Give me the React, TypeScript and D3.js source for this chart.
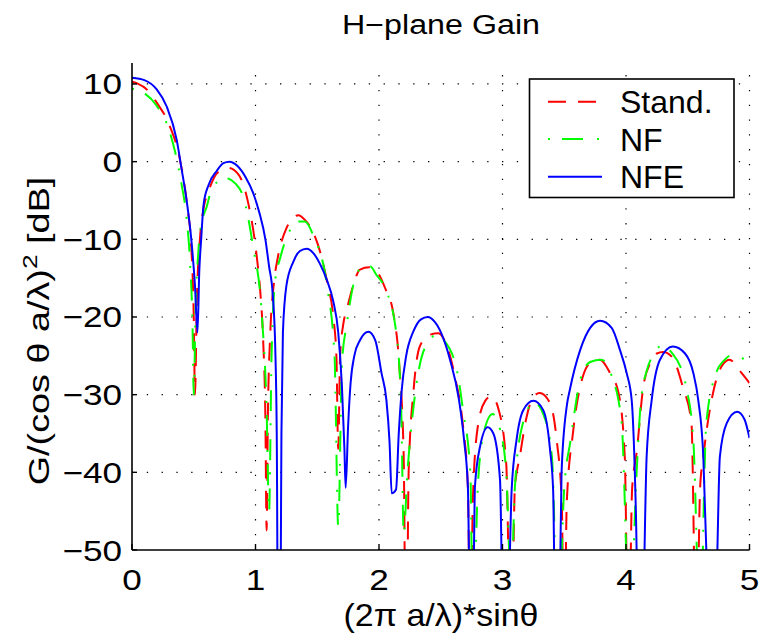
import React from 'react';
import * as d3 from 'd3';

const W = 761;
const H = 642;
const X_DOMAIN: [number, number] = [0, 5];
const Y_DOMAIN: [number, number] = [-50, 12.7];
const X_TICKS = [0, 1, 2, 3, 4, 5];
const Y_TICKS = [-50, -40, -30, -20, -10, 0, 10];
const TITLE = 'H\u2212plane Gain';
const SERIES_NAMES = ['Stand.', 'NF', 'NFE'];
const SERIES_COLORS = ['#ff0000', '#00ff00', '#0000ff'];

// Stand. (red dashed)
const standX = [0, 0.038, 0.132, 0.2, 0.3, 0.389, 0.448, 0.48, 0.5, 0.51, 0.525, 0.55, 0.58, 0.62, 0.7, 0.78, 0.86, 0.942, 1.01, 1.04, 1.063, 1.08, 1.09, 1.1, 1.12, 1.15, 1.18, 1.25, 1.3, 1.347, 1.4, 1.47, 1.53, 1.58, 1.63, 1.655, 1.67, 1.685, 1.71, 1.74, 1.79, 1.846, 1.92, 1.994, 2.05, 2.116, 2.165, 2.2, 2.22, 2.24, 2.28, 2.33, 2.41, 2.48, 2.52, 2.615, 2.68, 2.72, 2.74, 2.76, 2.8, 2.86, 2.91, 2.97, 3.03, 3.07, 3.1, 3.14, 3.196, 3.25, 3.3, 3.385, 3.44, 3.48, 3.5, 3.52, 3.57, 3.65, 3.72, 3.79, 3.87, 3.94, 3.99, 4.02, 4.05, 4.086, 4.14, 4.2, 4.25, 4.3, 4.37, 4.46, 4.53, 4.57, 4.6, 4.626, 4.71, 4.78, 4.84, 4.9, 4.95, 5.0];
const standY = [10.3, 10.1, 9.1, 7.6, 4.8, 0.2, -5.8, -11, -20, -30, -18, -10, -6, -3.8, -1.3, -0.8, -1.6, -5.4, -12.2, -17, -23.4, -33, -47.5, -33, -22, -15.5, -12.4, -8.6, -7.3, -6.9, -7.5, -9.2, -12, -15.5, -20, -25, -37, -25, -21, -19, -16, -13.9, -13.6, -14.4, -16.3, -19.5, -26.4, -38, -70, -40, -29.4, -23.8, -22.3, -22.1, -22.7, -27.7, -34, -42, -65, -43.5, -34.1, -30.8, -30.2, -32, -38.8, -65, -42, -38, -32.8, -30.3, -29.8, -31.1, -36, -44, -65, -44, -35, -27.7, -25.8, -25.5, -27.2, -29.8, -38, -65, -42, -37.5, -29, -25.8, -24.7, -24.5, -25.1, -29, -33.7, -65, -42, -38, -29.4, -26.2, -25.5, -26.5, -27.5, -28.5];

// NF (green dash-dot)
const nfX = [0, 0.1, 0.2, 0.308, 0.4, 0.44, 0.47, 0.49, 0.5, 0.515, 0.54, 0.57, 0.605, 0.63, 0.69, 0.753, 0.836, 0.9, 0.98, 1.05, 1.09, 1.11, 1.13, 1.16, 1.2, 1.28, 1.35, 1.4, 1.47, 1.58, 1.64, 1.67, 1.7, 1.74, 1.82, 1.87, 1.93, 1.98, 2.05, 2.14, 2.18, 2.2, 2.23, 2.265, 2.32, 2.39, 2.47, 2.52, 2.63, 2.68, 2.74, 2.76, 2.8, 2.84, 2.92, 2.98, 3.03, 3.07, 3.1, 3.16, 3.255, 3.33, 3.4, 3.45, 3.5, 3.55, 3.63, 3.71, 3.8, 3.88, 3.965, 4.03, 4.086, 4.12, 4.17, 4.22, 4.29, 4.37, 4.45, 4.49, 4.545, 4.6, 4.65, 4.73, 4.8, 4.87, 4.95, 5.0];
const nfY = [9.4, 8.8, 7.2, 3.7, -2.8, -7, -13, -21, -30, -19, -11, -7.5, -5.8, -4.3, -2.6, -2.1, -2.8, -4.5, -10.9, -19.5, -32, -45, -25, -15.2, -12.4, -8.8, -7.7, -7.7, -9.6, -16.1, -25, -47, -26, -20.8, -14.4, -13.6, -13.5, -14.6, -16.3, -22.1, -32, -48, -40, -33.7, -27, -23.4, -22.3, -22.9, -26.8, -32, -40.1, -60, -42, -35.5, -32.5, -34.5, -40, -55, -42, -34, -31, -32.5, -38, -60, -42, -36, -28.1, -25.8, -25.5, -27.4, -33.7, -60, -40, -31, -26.8, -24.9, -23.7, -24.6, -26.8, -29.2, -35.8, -60, -33.7, -27.2, -25.5, -24.8, -25.4, -26.3];

// NFE (blue solid)
const nfeX = [0, 0.1, 0.2, 0.281, 0.362, 0.4, 0.445, 0.48, 0.51, 0.53, 0.545, 0.56, 0.58, 0.62, 0.686, 0.74, 0.79, 0.85, 0.92, 0.98, 1.03, 1.08, 1.11, 1.139, 1.16, 1.172, 1.19, 1.21, 1.222, 1.25, 1.306, 1.36, 1.414, 1.47, 1.52, 1.577, 1.63, 1.67, 1.7, 1.72, 1.73, 1.75, 1.77, 1.8, 1.846, 1.914, 1.97, 2.02, 2.06, 2.085, 2.103, 2.138, 2.16, 2.184, 2.22, 2.28, 2.34, 2.394, 2.45, 2.51, 2.575, 2.648, 2.69, 2.72, 2.745, 2.765, 2.777, 2.818, 2.88, 2.926, 2.98, 3.005, 3.04, 3.074, 3.114, 3.168, 3.25, 3.33, 3.385, 3.41, 3.435, 3.465, 3.478, 3.52, 3.545, 3.63, 3.71, 3.79, 3.884, 3.95, 4.005, 4.046, 4.08, 4.12, 4.15, 4.167, 4.208, 4.275, 4.38, 4.478, 4.545, 4.585, 4.626, 4.66, 4.7, 4.74, 4.76, 4.815, 4.9, 4.96, 5.0];
const nfeY = [10.8, 10.5, 9.3, 7.1, 2.8, -0.8, -5.3, -10, -16, -22, -14, -10, -5.5, -3.0, -1.2, -0.2, 0, -0.5, -2, -4, -6.5, -10, -13.5, -17, -24, -35, -90, -35, -22, -16, -12.9, -11.5, -11.2, -11.8, -13.1, -15.2, -18, -22, -29, -37, -42, -34, -28.5, -25, -23, -21.9, -23, -27.2, -30.7, -36, -42.7, -42.2, -35, -29.4, -25, -21.8, -20.3, -20, -20.6, -22.3, -25.5, -30.7, -36, -42, -70, -55, -41.8, -36.7, -34.2, -35, -41, -60, -60, -42.3, -35.8, -32, -30.8, -32, -37.1, -42.3, -70, -55, -40.1, -31.5, -29.4, -24.2, -21.4, -20.5, -21.4, -24.2, -27.2, -30.7, -45, -80, -50, -38, -30.7, -25.5, -23.8, -24.7, -27.2, -30.7, -38, -55, -80, -50, -38, -33.7, -32.2, -33.2, -35.6];

const FONT = '"Liberation Sans", Arial, Helvetica, sans-serif';

export default function App() {
  const x = d3.scaleLinear().domain(X_DOMAIN).range([132, 749.5]);
  const y = d3.scaleLinear().domain(Y_DOMAIN).range([550, 63]);
  const [x0, x1] = x.range();
  const [yb, yt] = y.range();

  const line = d3
    .line<[number, number]>()
    .x((d) => x(d[0]))
    .y((d) => y(d[1]))
    .curve(d3.curveMonotoneX);

  const series = [
    { name: SERIES_NAMES[0], color: SERIES_COLORS[0], dash: '18,12', pts: standX.map((v, i) => [v, standY[i]] as [number, number]) },
    { name: SERIES_NAMES[1], color: SERIES_COLORS[1], dash: '2,12,21,14', pts: nfX.map((v, i) => [v, nfY[i]] as [number, number]) },
    { name: SERIES_NAMES[2], color: SERIES_COLORS[2], dash: undefined as string | undefined, pts: nfeX.map((v, i) => [v, nfeY[i]] as [number, number]) },
  ];

  const fmt = d3.format('d');

  const legend = { x: 529.5, y: 79, w: 204.5, h: 118.5 };
  const legendRows = [101.7, 139, 176.7];

  return (
    <svg width={W} height={H} style={{ position: 'absolute', left: 0, top: 0, background: '#fff' }} fontFamily={FONT}>
      <defs>
        <clipPath id="plotclip">
          <rect x={x0} y={yt} width={x1 - x0} height={yb - yt} />
        </clipPath>
      </defs>
      <rect x={0} y={0} width={W} height={H} fill="#fff" />

      {/* grid */}
      {X_TICKS.filter((t) => t !== 0).map((t) => (
        <line key={'gx' + t} x1={x(t)} x2={x(t)} y1={yb} y2={yt} stroke="#000" strokeWidth={1.2} strokeDasharray="1.3,13.5" />
      ))}
      {Y_TICKS.filter((t) => t !== -50).map((t) => (
        <line key={'gy' + t} x1={x0} x2={x1} y1={y(t)} y2={y(t)} stroke="#000" strokeWidth={1.2} strokeDasharray="1.3,13.5" />
      ))}

      {/* series */}
      <g clipPath="url(#plotclip)">
        {series.map((s) => (
          <path key={s.name} d={line(s.pts) || ''} fill="none" stroke={s.color} strokeWidth={2} strokeDasharray={s.dash} strokeLinejoin="round" />
        ))}
      </g>

      {/* axes */}
      <line x1={x0} x2={x0} y1={yb} y2={yt} stroke="#000" strokeWidth={1.6} />
      <line x1={x0} x2={x1} y1={yb} y2={yb} stroke="#000" strokeWidth={1.6} />
      {Y_TICKS.map((t) => (
        <g key={'ty' + t}>
          <line x1={x0} x2={x0 + 5} y1={y(t)} y2={y(t)} stroke="#000" strokeWidth={1.4} />
          <text transform={`translate(${x0 - 10}, ${y(t) + 10.5}) scale(1.19, 1)`} textAnchor="end" fontSize={29.5} fill="#000">
            {fmt(t).replace('-', '\u2212')}
          </text>
        </g>
      ))}
      {X_TICKS.map((t) => (
        <g key={'tx' + t}>
          <line x1={x(t)} x2={x(t)} y1={yb} y2={yb - 6} stroke="#000" strokeWidth={1.4} />
          <text transform={`translate(${x(t)}, 590) scale(1.19, 1)`} textAnchor="middle" fontSize={29.5} fill="#000">
            {fmt(t)}
          </text>
        </g>
      ))}

      {/* title */}
      <text x={441} y={34.3} textAnchor="middle" fontSize={27} fill="#000" textLength={198} lengthAdjust="spacingAndGlyphs">
        {TITLE}
      </text>

      {/* x label */}
      <text x={441} y={626} textAnchor="middle" fontSize={30.5} fill="#000" textLength={195} lengthAdjust="spacingAndGlyphs">
        (2π a/λ)*sinθ
      </text>

      {/* y label */}
      <text transform={`translate(48.5, 331) rotate(-90) scale(1.26, 1)`} textAnchor="middle" fontSize={30} fill="#000">
        G/(cos θ a/λ)<tspan fontSize={21} dy={-12}>2</tspan>
        <tspan dy={12}> [dB]</tspan>
      </text>

      {/* legend */}
      <rect x={legend.x} y={legend.y} width={legend.w} height={legend.h} fill="#fff" stroke="#000" strokeWidth={1.6} />
      {series.map((s, i) => (
        <g key={'lg' + s.name}>
          <line x1={548} x2={602} y1={legendRows[i]} y2={legendRows[i]} stroke={s.color} strokeWidth={2} strokeDasharray={s.dash} />
          <text x={620} y={legendRows[i] + 11.5} fontSize={32} fill="#000">
            {s.name}
          </text>
        </g>
      ))}
    </svg>
  );
}
